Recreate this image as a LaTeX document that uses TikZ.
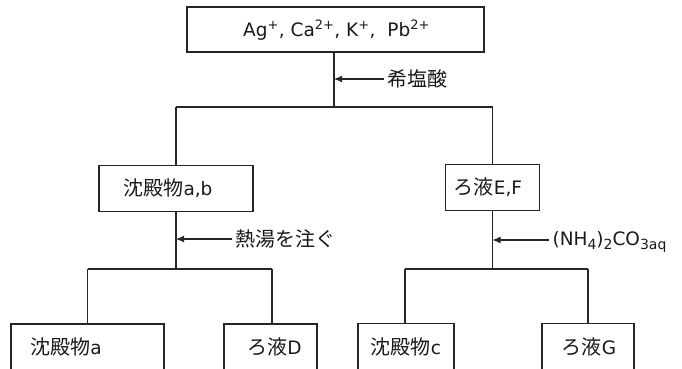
\documentclass[tikz,border=0pt]{standalone}
\usepackage{fontspec}
\setmainfont{DejaVu Sans}
\newfontfamily\jpf{Noto Sans CJK JP}
\newcommand{\jp}[1]{{\jpf\fontsize{20}{22}\selectfont #1}}
\newcommand{\subsc}[1]{\raisebox{-0.25em}{\fontsize{14}{16}\selectfont #1}}
\usetikzlibrary{arrows.meta}
\begin{document}
\begin{tikzpicture}[x=1pt,y=-1pt,
  line width=1.1pt, draw=black!85,
  every node/.style={font=\fontsize{18.5}{20}\selectfont, text=black!90},
  box/.style={draw=black!85, line width=1.1pt, minimum height=46pt, inner sep=0pt},
  txt/.style={inner sep=0pt},
  lbl/.style={inner sep=3pt, anchor=west},
  arr/.style={-{Latex[length=8pt,width=7pt]}}]
\useasboundingbox (0,0) rectangle (682,369);
% boxes
\node[box, minimum width=297pt, minimum height=45pt] (top) at (335.5,29.5) {};
\node[txt] (toptxt) at (336.5,30) {Ag\textsuperscript{+}, Ca\textsuperscript{2+}, K\textsuperscript{+},\ \ Pb\textsuperscript{2+}};
\node[box, minimum width=154pt] (ab) at (176,188.5) {};
\node[txt] (abtxt) at (168,188.5) {\jp{沈殿物}a,b};
\node[box, minimum width=94pt] (ef) at (492.5,187.5) {};
\node[txt] (eftxt) at (488,187.5) {\jp{ろ液}E,F};
\node[box, minimum width=153pt] (a) at (87.5,347) {};
\node[txt] (atxt) at (66,347) {\jp{沈殿物}a};
\node[box, minimum width=93pt] (d) at (270.5,347) {};
\node[txt] (dtxt) at (274.5,347) {\jp{ろ液}D};
\node[box, minimum width=96pt] (c) at (406,346.5) {};
\node[txt] (ctxt) at (406,346.5) {\jp{沈殿物}c};
\node[box, minimum width=92pt] (g) at (588,346.5) {};
\node[txt] (gtxt) at (589,346.5) {\jp{ろ液}G};
% junctions
\coordinate (j1) at (334,107);
\coordinate (jl) at (176,107);
\coordinate (jr) at (492.5,107);
\coordinate (jl2) at (176,269);
\coordinate (la) at (87.5,269);
\coordinate (lb) at (272,269);
\coordinate (jr2) at (492.5,269);
\coordinate (rc) at (405,269);
\coordinate (rg) at (588,269);
% connectors
\draw (j1 |- top.south) -- (j1);
\draw (jl) -- (jr);
\draw (jl) -- (ab.north);
\draw (jr) -- (ef.north);
\draw (ab.south) -- (jl2);
\draw (la) -- (lb);
\draw (la) -- (a.north);
\draw (lb) -- (lb |- d.north);
\draw (ef.south) -- (jr2);
\draw (rc) -- (rg);
\draw (rc) -- (rc |- c.north);
\draw (rg) -- (g.north);
% reagent arrows
\coordinate (t1) at (334,79);
\node[lbl] (l1) at (384,79) {\jp{希塩酸}};
\draw[arr] (l1.west) -- (t1);
\coordinate (t2) at (176,239);
\node[lbl] (l2) at (232,239) {\jp{熱湯を注ぐ}};
\draw[arr] (l2.west) -- (t2);
\coordinate (t3) at (492.5,240);
\node[lbl] (l3) at (549,242) {(NH\subsc{4})\subsc{2}CO\subsc{3aq}};
\draw[arr] (l3.west |- t3) -- (t3);
\end{tikzpicture}
\end{document}
